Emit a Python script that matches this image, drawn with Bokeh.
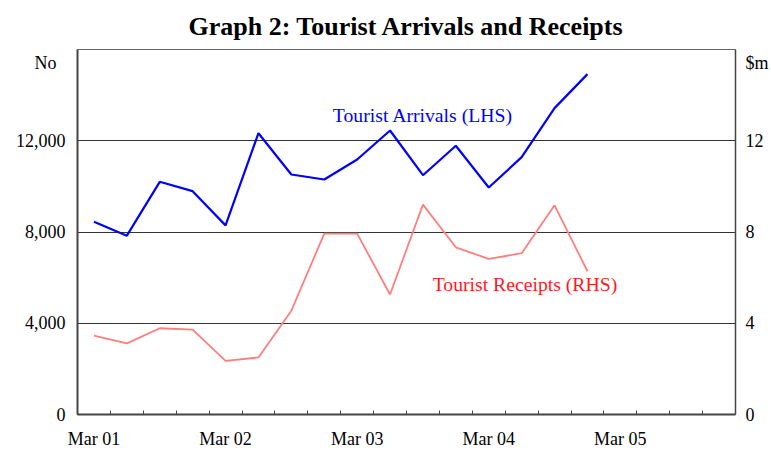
from bokeh.plotting import figure
from bokeh.models import Range1d, LinearAxis, FixedTicker, Label
from bokeh.embed import file_html
from bokeh.resources import INLINE

# Quarterly data, Mar 01 .. Dec 04
quarters = ["Mar 01", "Jun 01", "Sep 01", "Dec 01",
            "Mar 02", "Jun 02", "Sep 02", "Dec 02",
            "Mar 03", "Jun 03", "Sep 03", "Dec 03",
            "Mar 04", "Jun 04", "Sep 04", "Dec 04"]
arrivals = [8450, 7840, 10200, 9790, 8290, 12330, 10520, 10300,
            11180, 12450, 10490, 11780, 9950, 11280, 13430, 14920]
receipts = [3.46, 3.12, 3.78, 3.72, 2.35, 2.50, 4.55, 7.93,
            7.93, 5.26, 9.20, 7.33, 6.82, 7.07, 9.17, 6.28]
year_labels = ["Mar 01", "Mar 02", "Mar 03", "Mar 04", "Mar 05"]
left_ticks = [0, 4000, 8000, 12000]
left_labels = ["0", "4,000", "8,000", "12,000"]
right_ticks = [0, 4, 8, 12]
right_labels = ["0", "4", "8", "12"]
left_unit = "No"
right_unit = "$m"
unit_pos_left = 15400
unit_pos_right = 15.4
n_slots = 20  # Mar 01 .. Dec 05

FONT = "Liberation Serif"
NBSP = "\u00a0"

xs = [i + 0.5 for i in range(len(quarters))]

p = figure(frame_width=658, frame_height=365, output_backend="svg", toolbar_location=None,
           x_range=Range1d(0, n_slots), y_range=Range1d(0, 16000),
           min_border_left=70, min_border_right=30, min_border_top=40, min_border_bottom=30)
p.extra_y_ranges = {"rhs": Range1d(0, 16)}

p.title.text = "Graph 2: Tourist Arrivals and Receipts"
p.title.text_font = FONT
p.title.text_font_size = "26px"
p.title.text_font_style = "bold"
p.title.align = "center"
p.title.text_color = "black"
p.title.padding = 6
p.title.standoff = 6

p.outline_line_color = "#666666"
p.background_fill_color = "white"
p.border_fill_color = "white"

# grid
p.xgrid.visible = False
p.ygrid.ticker = FixedTicker(ticks=[4000, 8000, 12000])
p.ygrid.grid_line_color = "#333333"
p.ygrid.grid_line_width = 1

# left axis (unit label "No" drawn as an extra tick label)
ya = p.yaxis[0]
ya.ticker = FixedTicker(ticks=left_ticks + [unit_pos_left])
overrides_l = {t: s for t, s in zip(left_ticks, left_labels)}
overrides_l[unit_pos_left] = NBSP * 7 + left_unit + NBSP * 2
ya.major_label_overrides = overrides_l
ya.major_tick_line_color = None
ya.major_tick_out = 0
ya.major_tick_in = 0
ya.minor_tick_line_color = None
ya.minor_tick_out = 0
ya.axis_line_color = "#444444"
ya.axis_line_width = 2
ya.major_label_text_font = FONT
ya.major_label_text_font_size = "18px"
ya.major_label_text_color = "black"
ya.major_label_standoff = 12

# right axis (unit label "$m" drawn as an extra tick label)
ra = LinearAxis(y_range_name="rhs", ticker=FixedTicker(ticks=right_ticks + [unit_pos_right]))
overrides_r = {t: s for t, s in zip(right_ticks, right_labels)}
overrides_r[unit_pos_right] = right_unit
ra.major_label_overrides = overrides_r
ra.major_tick_line_color = None
ra.major_tick_out = 0
ra.major_tick_in = 0
ra.minor_tick_line_color = None
ra.minor_tick_out = 0
ra.axis_line_color = "#444444"
ra.axis_line_width = 1.5
ra.major_label_text_font = FONT
ra.major_label_text_font_size = "18px"
ra.major_label_text_color = "black"
ra.major_label_standoff = 10
p.add_layout(ra, "right")

# bottom axis: labels centred in each year's first quarter, ticks at quarter boundaries
label_pos = [4 * k + 0.5 for k in range(len(year_labels))]
xa = p.xaxis[0]
xa.ticker = FixedTicker(ticks=label_pos, minor_ticks=list(range(0, n_slots + 1)))
xa.major_label_overrides = {pos: lab for pos, lab in zip(label_pos, year_labels)}
xa.major_tick_line_color = None
xa.major_tick_out = 0
xa.major_tick_in = 0
xa.minor_tick_in = 4
xa.minor_tick_out = 0
xa.minor_tick_line_color = "#444444"
xa.axis_line_color = "#444444"
xa.axis_line_width = 2
xa.major_label_text_font = FONT
xa.major_label_text_font_size = "18px"
xa.major_label_text_color = "black"
xa.major_label_standoff = 14

# series
p.line(xs, arrivals, line_color="#0000ff", line_width=2.2)
p.line(xs, receipts, line_color="#ff7f7f", line_width=1.8, y_range_name="rhs")

# annotations
p.add_layout(Label(x=10.5, y=13150, text="Tourist Arrivals (LHS)", text_font=FONT,
                   text_font_size="19.7px", text_color="#0000ff",
                   text_align="center", text_baseline="middle"))
p.add_layout(Label(x=13.6, y=5.7, y_range_name="rhs", text="Tourist Receipts (RHS)", text_font=FONT,
                   text_font_size="19.7px", text_color="#ff1a1a",
                   text_align="center", text_baseline="middle"))

open("out.html", "w").write(file_html(p, INLINE))
